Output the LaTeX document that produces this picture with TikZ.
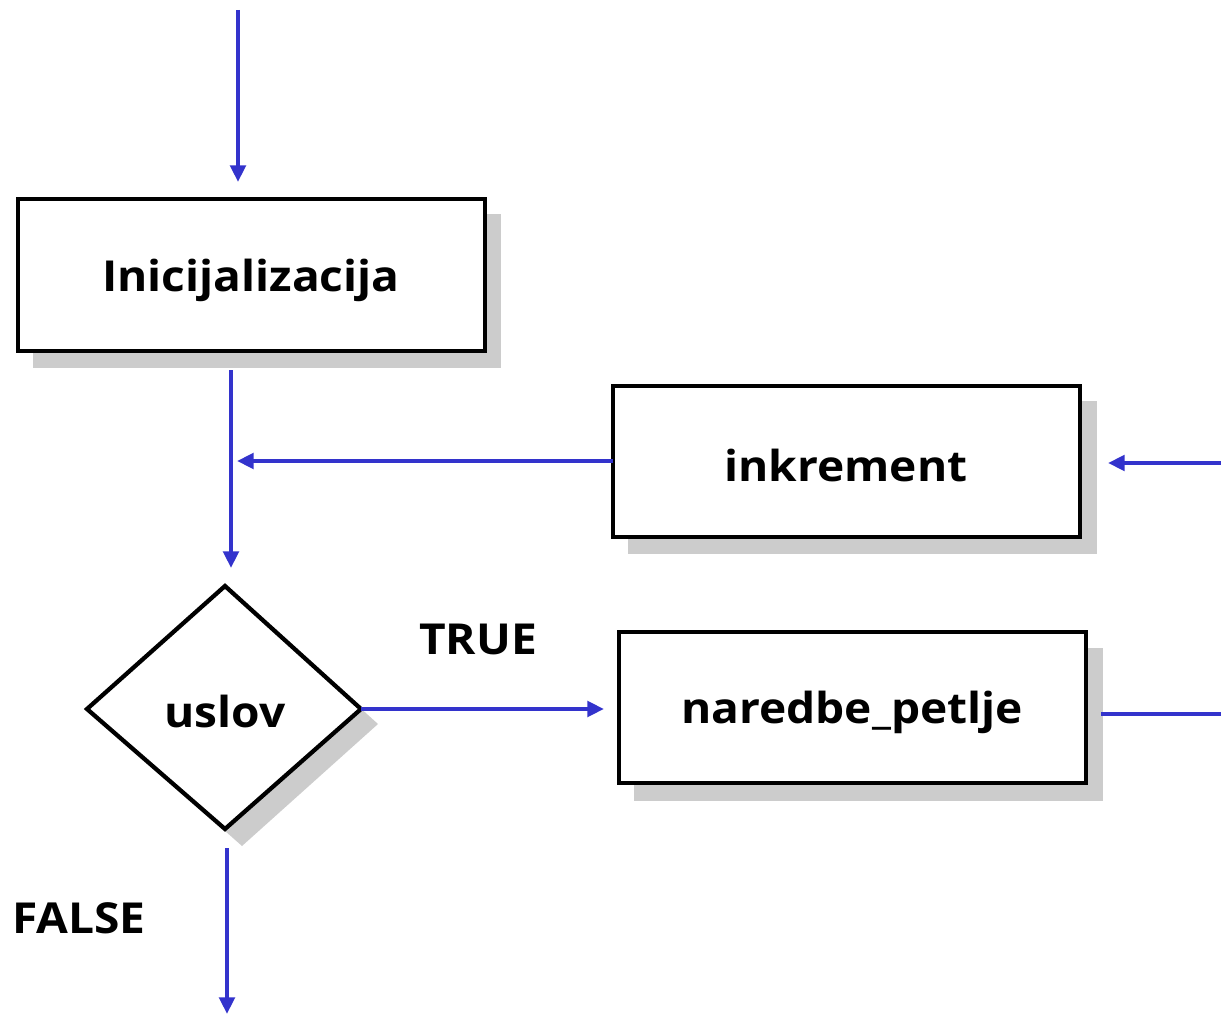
\documentclass[tikz,border=0pt]{standalone}
\usepackage{fontspec}
\setmainfont{Open Sans}[FakeStretch=1.08]
\usetikzlibrary{shapes.geometric,arrows.meta}
\definecolor{flowblue}{HTML}{3333CC}
\definecolor{shadowgray}{HTML}{CCCCCC}
\begin{document}
\begin{tikzpicture}[x=0.75pt,y=-0.75pt,
  lbl/.style={font=\fontsize{32}{38}\selectfont\bfseries, inner sep=0pt},
  flow/.style={draw=flowblue, line width=3.2pt,
    -{Triangle[length=12.5pt,width=11.5pt]}},
  plainflow/.style={draw=flowblue, line width=3.2pt},
  boxline/.style={draw=black, line width=3.2pt, fill=white}]
\useasboundingbox (0,0) rectangle (1221,1016);

% drop shadows
\fill[shadowgray] (33,214) rectangle (501,368);
\fill[shadowgray] (628,401) rectangle (1097,554);
\fill[shadowgray] (634,648) rectangle (1103,801);
\fill[shadowgray] (104,724) -- (242,601) -- (378,724) -- (242,846) -- cycle;

% process boxes
\draw[boxline] (18,199) rectangle (485,351);
\node[lbl] (init) at (251,280) {Inicijalizacija};
\coordinate (initS) at (231,351);

\draw[boxline] (613,386) rectangle (1080,537);
\node[lbl] (inkr) at (846,465) {inkrement};
\coordinate (inkrW) at (613,461);
\coordinate (inkrE) at (1080,463);

\draw[boxline] (619,632) rectangle (1086,783);
\node[lbl] (body) at (852,712) {naredbe\_petlje};
\coordinate (bodyW) at (619,709);
\coordinate (bodyE) at (1086,714);

% decision
\draw[boxline] (87,709) -- (225,586) -- (361,709) -- (225,829) -- cycle;
\node[lbl] (cond) at (225,711) {uslov};
\coordinate (condN) at (231,586);
\coordinate (condE) at (361,709);
\coordinate (condS) at (227,829);

% free ends
\coordinate (entry) at (238,10);
\coordinate (initTop) at (238,199);
\coordinate (merge) at (231,461);
\coordinate (backR) at (1221,463);
\coordinate (bodyR) at (1221,714);
\coordinate (exit) at (227,1016);

% connectors
\draw[flow, shorten >=12.75pt] (entry) -- (initTop);
\draw[flow, shorten <=14.25pt, shorten >=13.5pt] (initS) -- (condN);
\draw[flow, shorten >=4.5pt] (inkrW) -- (merge);
\draw[flow, shorten >=21pt] (backR) -- (inkrE);
\draw[flow, shorten >=11.25pt] (condE) -- (bodyW);
\draw[plainflow, shorten >=11.25pt] (bodyR) -- (bodyE);
\draw[flow, shorten <=14.25pt, shorten >=1.5pt] (condS) -- (exit);

% branch labels
\node[lbl] (tlab) at (478,639) {TRUE};
\node[lbl] (flab) at (79,918) {FALSE};
\end{tikzpicture}
\end{document}
